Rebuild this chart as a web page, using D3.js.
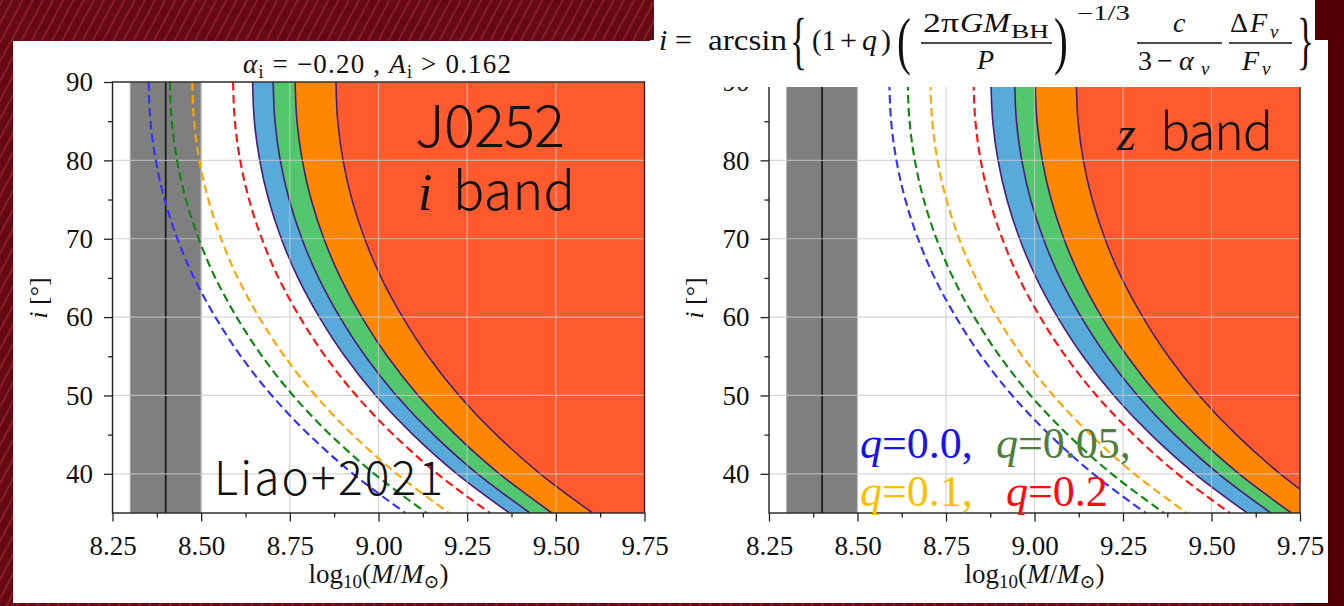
<!DOCTYPE html>
<meta charset="utf-8">
<style>
  body { margin: 0; background: #5a0610; overflow: hidden; }
  svg text { font-family: "Liberation Serif", "DejaVu Serif", serif; fill: #111; }
  .sans { font-family: "Noto Sans CJK JP", "Noto Sans", sans-serif; font-weight: 300; }
</style>
<body>
<script src="https://d3js.org/d3.v7.min.js"></script>
<script>

var W = 1344, H = 606;

var incl = [90, 85, 80, 75, 70, 65, 60, 55, 50, 45, 40, 35];

// log10(M/Msun) of each curve, i band panel
var iBlueDash   = [8.352, 8.357, 8.372, 8.397, 8.433, 8.480, 8.540, 8.612, 8.699, 8.804, 8.928, 9.076];
var iGreenDash  = [8.412, 8.417, 8.432, 8.457, 8.493, 8.540, 8.600, 8.672, 8.759, 8.864, 8.988, 9.136];
var iOrangeDash = [8.475, 8.480, 8.495, 8.520, 8.556, 8.603, 8.663, 8.735, 8.822, 8.927, 9.051, 9.199];
var iRedDash    = [8.590, 8.595, 8.610, 8.635, 8.671, 8.718, 8.778, 8.850, 8.937, 9.042, 9.166, 9.314];
var iEdge1      = [8.645, 8.650, 8.665, 8.690, 8.726, 8.773, 8.833, 8.905, 8.992, 9.097, 9.221, 9.369];
var iEdge2      = [8.703, 8.708, 8.723, 8.748, 8.784, 8.831, 8.891, 8.963, 9.050, 9.155, 9.279, 9.427];
var iEdge3      = [8.765, 8.770, 8.785, 8.810, 8.846, 8.893, 8.953, 9.025, 9.112, 9.217, 9.341, 9.489];
var iEdge4      = [8.880, 8.885, 8.900, 8.925, 8.961, 9.008, 9.068, 9.140, 9.227, 9.332, 9.456, 9.604];

// z band panel
var zBlueDash   = [8.590, 8.595, 8.610, 8.635, 8.671, 8.718, 8.778, 8.850, 8.937, 9.042, 9.166, 9.314];
var zGreenDash  = [8.642, 8.647, 8.662, 8.687, 8.723, 8.770, 8.830, 8.902, 8.989, 9.094, 9.218, 9.366];
var zOrangeDash = [8.706, 8.711, 8.726, 8.751, 8.787, 8.834, 8.894, 8.966, 9.053, 9.158, 9.282, 9.430];
var zRedDash    = [8.828, 8.833, 8.848, 8.873, 8.909, 8.956, 9.016, 9.088, 9.175, 9.280, 9.404, 9.552];
var zEdge1      = [8.877, 8.882, 8.897, 8.922, 8.958, 9.005, 9.065, 9.137, 9.224, 9.329, 9.453, 9.601];
var zEdge2      = [8.944, 8.949, 8.964, 8.989, 9.025, 9.072, 9.132, 9.204, 9.291, 9.396, 9.520, 9.668];
var zEdge3      = [9.002, 9.007, 9.022, 9.047, 9.083, 9.130, 9.190, 9.262, 9.349, 9.454, 9.578, 9.726];
var zEdge4      = [9.118, 9.123, 9.138, 9.163, 9.199, 9.246, 9.306, 9.378, 9.465, 9.570, 9.694, 9.842];

var xDomain = [8.25, 9.75], yDomain = [35, 90];
var xTicks = [8.25, 8.50, 8.75, 9.00, 9.25, 9.50, 9.75];
var xMinor = [8.375, 8.625, 8.875, 9.125, 9.375, 9.625];
var yTicks = [40, 50, 60, 70, 80, 90];
var yMinor = [45, 55, 65, 75, 85];
var exclBand = [8.30, 8.50], massLine = 8.40;

var qLabels = ["0.0,", "0.05,", "0.1,", "0.2"];
var qColors = ["#1414f0", "#4e7e3c", "#ffbf00", "#ff0a0a"];

var svg = d3.select("body").append("svg")
    .attr("width", W).attr("height", H);

// slide background
var defs = svg.append("defs");
var pat = defs.append("pattern").attr("id", "tex")
    .attr("patternUnits", "userSpaceOnUse")
    .attr("width", 9).attr("height", 9)
    .attr("patternTransform", "rotate(-62)");
pat.append("rect").attr("width", 9).attr("height", 9).attr("fill", "#640a14");
pat.append("line").attr("x1", 0).attr("y1", 2).attr("x2", 9).attr("y2", 2)
    .attr("stroke", "#8e1a26").attr("stroke-width", 2);
svg.append("rect").attr("width", W).attr("height", H).attr("fill", "url(#tex)");
svg.append("rect").attr("x", 1300).attr("width", 44).attr("height", H).attr("fill", "#500000");

// white slide panels
svg.append("rect").attr("x", 13).attr("y", 41).attr("width", 640).attr("height", 562).attr("fill", "#fff");
svg.append("rect").attr("x", 650).attr("y", 40).attr("width", 678).attr("height", 563).attr("fill", "#fff");

function panel(p) {
  var x = d3.scaleLinear().domain(xDomain).range([p.left, p.right]);
  var y = d3.scaleLinear().domain(yDomain).range([513, 82]);
  var g = svg.append("g");

  defs.append("clipPath").attr("id", "clip" + p.id).append("rect")
      .attr("x", x(xDomain[0])).attr("y", y(yDomain[1]))
      .attr("width", x(xDomain[1]) - x(xDomain[0]))
      .attr("height", y(yDomain[0]) - y(yDomain[1]));
  var plot = g.append("g").attr("clip-path", "url(#clip" + p.id + ")");

  plot.append("rect")
      .attr("x", x(exclBand[0])).attr("y", y(yDomain[1]))
      .attr("width", x(exclBand[1]) - x(exclBand[0]))
      .attr("height", y(yDomain[0]) - y(yDomain[1]))
      .attr("fill", "#7f7f7f").attr("stroke", "#a8a8a8").attr("stroke-width", 1);
  plot.append("line")
      .attr("x1", x(massLine)).attr("x2", x(massLine))
      .attr("y1", y(yDomain[0])).attr("y2", y(yDomain[1]))
      .attr("stroke", "#111").attr("stroke-width", 1.6);

  var rightEdge = incl.map(function() { return xDomain[1]; });
  var bands = [
    [p.edges[0], p.edges[1], "#58aadb"],
    [p.edges[1], p.edges[2], "#52c76c"],
    [p.edges[2], p.edges[3], "#ff8700"],
    [p.edges[3], rightEdge, "#ff5a2e"]
  ];
  var area = d3.area()
      .y(function(d) { return y(d.i); })
      .x0(function(d) { return x(d.a); })
      .x1(function(d) { return x(d.b); })
      .curve(d3.curveMonotoneY);
  bands.forEach(function(b) {
    var rows = incl.map(function(v, k) { return {i: v, a: b[0][k], b: b[1][k]}; });
    plot.append("path").datum(rows).attr("d", area).attr("fill", b[2]);
  });

  var line = d3.line()
      .x(function(d) { return x(d[0]); })
      .y(function(d) { return y(d[1]); })
      .curve(d3.curveMonotoneY);
  var pts = function(arr) { return arr.map(function(m, k) { return [m, incl[k]]; }); };

  p.edges.forEach(function(e) {
    plot.append("path").datum(pts(e)).attr("d", line)
        .attr("fill", "none").attr("stroke", "#4a1c70").attr("stroke-width", 1.6);
  });

  // grid
  plot.selectAll(".gx").data(xTicks).enter().append("line")
      .attr("x1", x).attr("x2", x).attr("y1", y(yDomain[0])).attr("y2", y(yDomain[1]))
      .attr("stroke", "#c8c8c8").attr("stroke-opacity", 0.75).attr("stroke-width", 1.2);
  plot.selectAll(".gy").data(yTicks).enter().append("line")
      .attr("y1", y).attr("y2", y).attr("x1", x(xDomain[0])).attr("x2", x(xDomain[1]))
      .attr("stroke", "#c8c8c8").attr("stroke-opacity", 0.75).attr("stroke-width", 1.2);

  var dashCols = ["#3030ff", "#0a870a", "#ffa500", "#ff1010"];
  p.dashes.forEach(function(d, k) {
    plot.append("path").datum(pts(d)).attr("d", line)
        .attr("fill", "none").attr("stroke", dashCols[k])
        .attr("stroke-width", 2.1).attr("stroke-dasharray", "8.5,4.5");
  });

  // frame
  g.append("rect")
      .attr("x", x(xDomain[0])).attr("y", y(yDomain[1]))
      .attr("width", x(xDomain[1]) - x(xDomain[0]))
      .attr("height", y(yDomain[0]) - y(yDomain[1]))
      .attr("fill", "none").attr("stroke", "#222").attr("stroke-width", 1.4);

  // axes
  var ax = g.append("g").attr("transform", "translate(0," + y(yDomain[0]) + ")")
      .call(d3.axisBottom(x).tickValues(xTicks).tickFormat(d3.format(".2f"))
          .tickSize(8.5).tickPadding(14).tickSizeOuter(0));
  var axm = g.append("g").attr("transform", "translate(0," + y(yDomain[0]) + ")")
      .call(d3.axisBottom(x).tickValues(xMinor).tickFormat("").tickSize(4.5).tickSizeOuter(0));
  var ay = g.append("g").attr("transform", "translate(" + x(xDomain[0]) + ",0)")
      .call(d3.axisLeft(y).tickValues(yTicks).tickFormat(d3.format("d"))
          .tickSize(8.5).tickPadding(11).tickSizeOuter(0));
  var aym = g.append("g").attr("transform", "translate(" + x(xDomain[0]) + ",0)")
      .call(d3.axisLeft(y).tickValues(yMinor).tickFormat("").tickSize(4.5).tickSizeOuter(0));
  [ax, axm, ay, aym].forEach(function(a) {
    a.select(".domain").remove();
    a.selectAll(".tick line").attr("stroke", "#222").attr("stroke-width", 1.3);
    a.attr("font-family", null).attr("font-size", null);
    a.selectAll(".tick text").attr("font-family", "Liberation Serif")
        .attr("font-size", 27).attr("fill", "#222");
  });

  // axis labels
  var xl = g.append("text").attr("x", (p.left + p.right) / 2).attr("y", 583)
      .attr("text-anchor", "middle").attr("font-size", 27);
  xl.append("tspan").text("log");
  xl.append("tspan").attr("font-size", 19).attr("dy", 5).text("10");
  xl.append("tspan").attr("dy", -5).text("(");
  xl.append("tspan").attr("font-style", "italic").text("M");
  xl.append("tspan").text("/");
  xl.append("tspan").attr("font-style", "italic").text("M");
  xl.append("tspan").attr("font-size", 19).attr("dy", 5).text("\u2299");
  xl.append("tspan").attr("dy", -5).text(")");

  var yl = g.append("text").attr("transform", "translate(" + (p.left - 66) + ",298) rotate(-90)")
      .attr("text-anchor", "middle").attr("font-size", 26);
  yl.append("tspan").attr("font-style", "italic").text("i");
  yl.append("tspan").text(" [\u00b0]");
  return {x: x, y: y, g: g};
}

var left = panel({id: "i", left: 112.5, right: 644.5,
  edges: [iEdge1, iEdge2, iEdge3, iEdge4],
  dashes: [iBlueDash, iGreenDash, iOrangeDash, iRedDash]});

var right = panel({id: "z", left: 769, right: 1300,
  edges: [zEdge1, zEdge2, zEdge3, zEdge4],
  dashes: [zBlueDash, zGreenDash, zOrangeDash, zRedDash]});

// left panel title
var t = svg.append("text").attr("x", 243).attr("y", 73).attr("font-size", 27)
    .attr("textLength", 268);
t.append("tspan").attr("font-style", "italic").text("\u03b1");
t.append("tspan").attr("font-size", 18).attr("dy", 5).text("i");
t.append("tspan").attr("dy", -5).text(" = \u22120.20 , ");
t.append("tspan").attr("font-style", "italic").text("A");
t.append("tspan").attr("font-size", 18).attr("dy", 5).text("i");
t.append("tspan").attr("dy", -5).text(" > 0.162");

// panel annotations
svg.append("text").attr("class", "sans").attr("x", 415).attr("y", 147)
    .attr("font-size", 58).attr("textLength", 150).text("J0252");
svg.append("text").attr("x", 418).attr("y", 210).attr("font-size", 52)
    .attr("font-style", "italic").text("i");
svg.append("text").attr("class", "sans").attr("x", 453).attr("y", 210)
    .attr("font-size", 52).attr("textLength", 122).text("band");
svg.append("text").attr("class", "sans").attr("x", 214).attr("y", 495)
    .attr("font-size", 46).attr("textLength", 229).text("Liao+2021");

svg.append("text").attr("x", 1117).attr("y", 150).attr("font-size", 48)
    .attr("font-style", "italic").text("z");
svg.append("text").attr("class", "sans").attr("x", 1160).attr("y", 150)
    .attr("font-size", 50).attr("textLength", 113).text("band");

// q legend
var qPos = [[860, 458], [996, 458], [860, 506], [1006, 506]];
qLabels.forEach(function(s, k) {
  var q = svg.append("text").attr("x", qPos[k][0]).attr("y", qPos[k][1])
      .attr("font-size", 44).attr("fill", qColors[k]).style("fill", qColors[k]);
  q.append("tspan").attr("font-style", "italic").text("q");
  q.append("tspan").text("=" + s);
});

// formula box
svg.append("rect").attr("x", 654).attr("y", 0).attr("width", 661).attr("height", 87).attr("fill", "#fff");
var F = svg.append("g");
function ft(x, y, size, str, italic, len) {
  var e = F.append("text").attr("x", x).attr("y", y).attr("font-size", size).text(str);
  if (italic) e.attr("font-style", "italic");
  if (len) e.attr("textLength", len).attr("lengthAdjust", "spacingAndGlyphs");
  return e;
}
function big(x, str, sx) {
  F.append("text").attr("transform", "translate(" + x + ",62) scale(" + sx + ",1)")
      .attr("font-size", 64).text(str);
}
ft(659, 50, 30, "i", true);
ft(675, 50, 30, "=", false, 17);
ft(708, 50, 30, "arcsin", false, 79);
big(790, "{", 0.55);
ft(812, 50, 30, "(1", false, 24);
ft(840, 50, 30, "+", false, 17);
ft(862, 50, 30, "q", true);
ft(881, 50, 30, ")", false);
big(897, "(", 0.65);
ft(923, 32, 28, "2\u03c0", false, 36);
ft(960, 32, 28, "GM", true, 50);
ft(1011, 38, 19, "BH", false, 38);
F.append("line").attr("x1", 921).attr("x2", 1052).attr("y1", 43).attr("y2", 43).attr("stroke", "#111").attr("stroke-width", 1.6);
ft(977, 69, 28, "P", true);
big(1054, ")", 0.65);
ft(1077, 20, 20, "\u22121/3", false, 53);
F.append("line").attr("x1", 1137).attr("x2", 1222).attr("y1", 43).attr("y2", 43).attr("stroke", "#111").attr("stroke-width", 1.6);
ft(1173, 32, 28, "c", true);
ft(1138, 70, 28, "3", false);
ft(1157, 70, 28, "\u2212", false);
ft(1179, 70, 28, "\u03b1", true);
ft(1201, 75, 19, "\u03bd", true);
F.append("line").attr("x1", 1229).attr("x2", 1292).attr("y1", 43).attr("y2", 43).attr("stroke", "#111").attr("stroke-width", 1.6);
ft(1230, 32, 28, "\u0394", false);
ft(1250, 32, 28, "F", true);
ft(1270, 38, 19, "\u03bd", true);
ft(1242, 70, 28, "F", true);
ft(1262, 75, 19, "\u03bd", true);
big(1297, "}", 0.55);

</script>
</body>
